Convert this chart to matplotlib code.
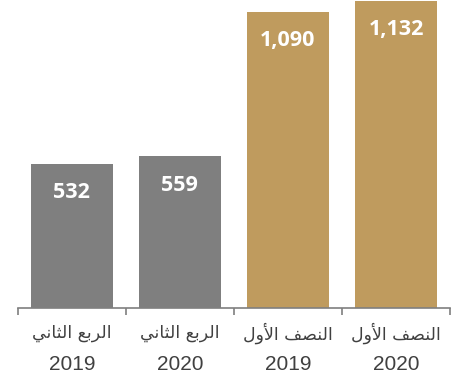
import matplotlib
matplotlib.use("Agg")
import matplotlib.pyplot as plt

# data
periods = ["الربع الثاني", "الربع الثاني", "النصف الأول", "النصف الأول"]
years = ["2019", "2020", "2019", "2020"]
values = [532, 559, 1090, 1132]
value_labels = ["532", "559", "1,090", "1,132"]
bar_colors = ["#7f7f7f", "#7f7f7f", "#bf9b5e", "#bf9b5e"]

# arabic contextual forms: (isolated, final, initial, medial); None -> no left join
FORMS = {
    "ا": ("\uFE8D", "\uFE8E", None, None),
    "أ": ("\uFE83", "\uFE84", None, None),
    "ر": ("\uFEAD", "\uFEAE", None, None),
    "و": ("\uFEED", "\uFEEE", None, None),
    "ل": ("\uFEDD", "\uFEDE", "\uFEDF", "\uFEE0"),
    "ب": ("\uFE8F", "\uFE90", "\uFE91", "\uFE92"),
    "ع": ("\uFEC9", "\uFECA", "\uFECB", "\uFECC"),
    "ث": ("\uFE99", "\uFE9A", "\uFE9B", "\uFE9C"),
    "ن": ("\uFEE5", "\uFEE6", "\uFEE7", "\uFEE8"),
    "ي": ("\uFEF1", "\uFEF2", "\uFEF3", "\uFEF4"),
    "ص": ("\uFEB9", "\uFEBA", "\uFEBB", "\uFEBC"),
    "ف": ("\uFED1", "\uFED2", "\uFED3", "\uFED4"),
}
LAM_ALEF = {"ا": ("\uFEFB", "\uFEFC"), "أ": ("\uFEF7", "\uFEF8")}


def shape(text):
    # merge lam + alef into ligature tokens
    tokens = []
    i = 0
    while i < len(text):
        c = text[i]
        if c == "ل" and i + 1 < len(text) and text[i + 1] in LAM_ALEF:
            tokens.append(("LA", text[i + 1]))
            i += 2
        else:
            tokens.append(("C", c))
            i += 1

    def joins_left(t):
        return t[0] == "C" and t[1] in FORMS and FORMS[t[1]][2] is not None

    def joins_right(t):
        return t[0] == "LA" or t[1] in FORMS

    out = []
    for k, t in enumerate(tokens):
        prev_j = k > 0 and joins_left(tokens[k - 1]) and joins_right(t)
        if t[0] == "LA":
            iso, fin = LAM_ALEF[t[1]]
            out.append(fin if prev_j else iso)
            continue
        c = t[1]
        if c not in FORMS:
            out.append(c)
            continue
        iso, fin, ini, med = FORMS[c]
        next_j = (k + 1 < len(tokens) and joins_right(tokens[k + 1])
                  and ini is not None)
        if prev_j and next_j:
            out.append(med)
        elif prev_j:
            out.append(fin)
        elif next_j:
            out.append(ini)
        else:
            out.append(iso)
    return "".join(out)[::-1]


plt.rcParams["font.family"] = ["Liberation Sans", "DejaVu Sans"]

fig = plt.figure(figsize=(4.56, 3.74), dpi=100)
ax = fig.add_axes([0.039, 0.1765, 0.948, 0.8235])

x = list(range(len(values)))
bars = ax.bar(x, values, width=0.76, color=bar_colors, zorder=2)

for rect, lab in zip(bars, value_labels):
    ax.annotate(lab, (rect.get_x() + rect.get_width() / 2, rect.get_height()),
                xytext=(0, -29), textcoords="offset pixels",
                ha="center", va="center", color="white", fontsize=15.5,
                fontweight="bold", family="Open Sans")

ax.set_xlim(-0.5, 3.5)
ax.set_ylim(0, 1134)
ax.set_yticks([])
for s in ["top", "right", "left"]:
    ax.spines[s].set_visible(False)
ax.spines["bottom"].set_color("#7f7f7f")
ax.spines["bottom"].set_linewidth(1.2)

# category labels: arabic period over year
ax.set_xticks(x)
ax.set_xticklabels([])
ax.tick_params(axis="x", which="major", length=0)
for xi, p, y in zip(x, periods, years):
    ax.annotate(shape(p), (xi, 0), xycoords=("data", "axes fraction"),
                xytext=(0, -25), textcoords="offset pixels",
                ha="center", va="center", fontsize=12.5, color="#404040",
                family="DejaVu Sans")
    ax.annotate(y, (xi, 0), xycoords=("data", "axes fraction"),
                xytext=(0, -57), textcoords="offset pixels",
                ha="center", va="center", fontsize=15, color="#404040")
ax.set_xticks([-0.5, 0.5, 1.5, 2.5, 3.5], minor=True)
ax.tick_params(axis="x", which="minor", length=5, width=1.2, color="#7f7f7f",
               direction="out")

fig.savefig("out.png", dpi=100)
